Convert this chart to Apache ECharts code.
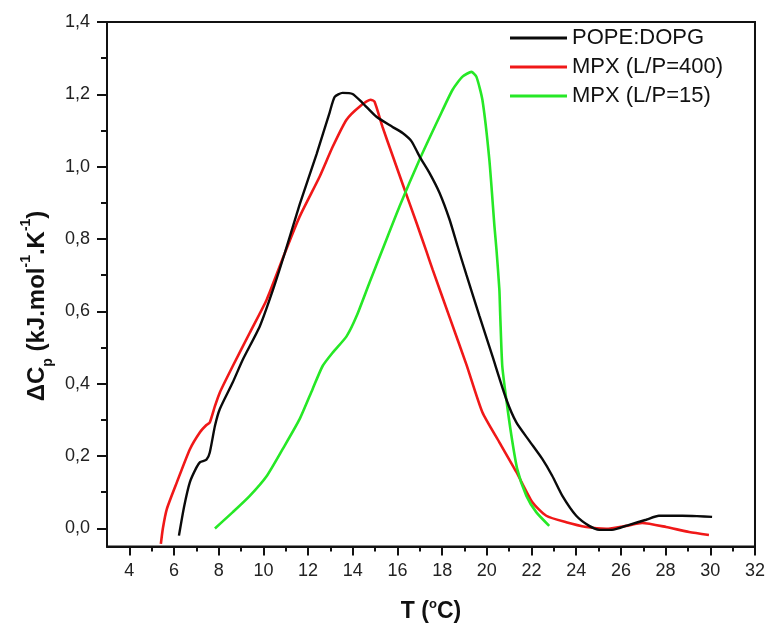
<!DOCTYPE html>
<html>
<head>
<meta charset="utf-8">
<script src="https://cdn.jsdelivr.net/npm/echarts@6.0.0/dist/echarts.min.js"></script>
<style>
  html, body { margin: 0; padding: 0; background: #fff; }
  #chart { width: 768px; height: 628px; }
</style>
</head>
<body>
<div id="chart"></div>
<script>
// DSC thermograms: excess heat capacity vs temperature
var seriesNames = ['POPE:DOPG', 'MPX (L/P=400)', 'MPX (L/P=15)'];

var popeT = [6.22, 6.45, 6.71, 7.0, 7.16, 7.45, 7.6, 7.83, 8.05, 8.63, 9.08, 9.84, 10.43, 10.95, 11.62, 12.38, 12.96, 13.19, 13.54, 13.99, 14.44, 15.06, 15.78, 16.23, 16.63, 16.99, 17.43, 17.88, 18.33, 18.69, 19.09, 19.67, 20.25, 20.87, 21.32, 21.9, 22.48, 22.93, 23.38, 24.0, 24.58, 25.03, 25.6, 26.37, 27.13, 27.7, 28.74, 29.4, 30.08];
var popeCp = [-0.02, 0.06, 0.128, 0.168, 0.183, 0.19, 0.21, 0.283, 0.33, 0.404, 0.467, 0.559, 0.66, 0.76, 0.895, 1.035, 1.149, 1.193, 1.204, 1.201, 1.176, 1.138, 1.11, 1.093, 1.07, 1.028, 0.983, 0.928, 0.854, 0.78, 0.7, 0.587, 0.476, 0.357, 0.293, 0.242, 0.192, 0.145, 0.09, 0.035, 0.007, -0.004, -0.004, 0.01, 0.024, 0.035, 0.035, 0.034, 0.032];

var mpx400T = [5.41, 5.5, 5.68, 6.13, 6.71, 7.16, 7.45, 7.6, 7.83, 8.05, 8.63, 9.39, 10.15, 10.95, 11.62, 12.52, 13.1, 13.72, 14.3, 14.8, 14.97, 15.33, 15.78, 16.23, 16.85, 17.3, 17.57, 18.33, 19.09, 19.8, 20.56, 21.32, 22.03, 22.66, 23.55, 24.45, 25.34, 26.23, 26.95, 28.02, 29.05, 29.94];
var mpx400Cp = [-0.043, 0.0, 0.054, 0.128, 0.219, 0.266, 0.286, 0.293, 0.338, 0.376, 0.449, 0.541, 0.633, 0.76, 0.862, 0.973, 1.055, 1.13, 1.166, 1.185, 1.18, 1.11, 1.031, 0.952, 0.845, 0.765, 0.716, 0.584, 0.452, 0.321, 0.238, 0.156, 0.073, 0.035, 0.017, 0.004, -0.001, 0.007, 0.015, 0.004, -0.01, -0.018];

var mpx15T = [7.83, 8.63, 9.39, 10.15, 10.86, 11.62, 12.2, 12.65, 13.1, 13.72, 14.17, 14.75, 15.33, 16.09, 16.99, 17.88, 18.46, 18.91, 19.31, 19.53, 19.8, 20.11, 20.34, 20.43, 20.56, 20.6, 20.69, 20.87, 21.1, 21.36, 21.77, 22.21, 22.79];
var mpx15Cp = [0.0, 0.045, 0.09, 0.145, 0.219, 0.302, 0.385, 0.449, 0.486, 0.531, 0.587, 0.68, 0.771, 0.89, 1.02, 1.138, 1.212, 1.249, 1.262, 1.249, 1.185, 1.02, 0.835, 0.771, 0.66, 0.587, 0.449, 0.357, 0.256, 0.164, 0.09, 0.045, 0.007];

// axis ticks
var xMajorTicks = [4, 6, 8, 10, 12, 14, 16, 18, 20, 22, 24, 26, 28, 30, 32];
var xMinorTicks = [5, 7, 9, 11, 13, 15, 17, 19, 21, 23, 25, 27, 29, 31];
var yMajorTicks = [0, 0.2, 0.4, 0.6, 0.8, 1.0, 1.2, 1.4];
var yMinorTicks = [0.1, 0.3, 0.5, 0.7, 0.9, 1.1, 1.3];

function pairs(xs, ys) {
  return xs.map(function (x, i) { return [x, ys[i]]; });
}

var FONT = '"Liberation Sans", Arial, sans-serif';
var axisColor = '#111';
var lineColors = ['#0a0a0a', '#f01818', '#26e826'];

var chart = echarts.init(document.getElementById('chart'), null, { renderer: 'canvas' });

var xBase = { type: 'value', min: 3, max: 32, gridIndex: 0, splitLine: { show: false } };
var yBase = { type: 'value', min: -0.05, max: 1.4, gridIndex: 0, splitLine: { show: false } };

chart.setOption({
  animation: false,
  backgroundColor: '#fff',
  grid: { left: 107, right: 12, top: 22, bottom: 81, show: true, borderColor: axisColor, borderWidth: 2, backgroundColor: 'transparent' },
  legend: {
    orient: 'vertical',
    left: 510,
    top: 27,
    padding: 0,
    itemGap: 7,
    itemWidth: 57,
    itemHeight: 3,
    icon: 'rect',
    data: seriesNames,
    textStyle: { fontFamily: FONT, fontSize: 22, color: '#111', lineHeight: 22 }
  },
  xAxis: [
    Object.assign({}, xBase, {
      position: 'bottom',
      axisLine: { show: true, onZero: false, lineStyle: { color: axisColor, width: 2 } },
      axisTick: { show: true, inside: false, length: 9, customValues: xMajorTicks, lineStyle: { color: axisColor, width: 2 } },
      axisLabel: { show: true, customValues: xMajorTicks, margin: 16, fontFamily: FONT, fontSize: 18, color: '#222' },
      name: '{m|T (}{sup|o}{m|C)}',
      nameLocation: 'middle',
      nameGap: 51,
      nameTextStyle: {
        rich: {
          m: { fontFamily: FONT, fontSize: 23, fontWeight: 'bold', color: '#111', lineHeight: 28 },
          sup: { fontFamily: FONT, fontSize: 13, fontWeight: 'bold', color: '#111', verticalAlign: 'top', lineHeight: 28 }
        }
      }
    }),
    Object.assign({}, xBase, {
      position: 'bottom',
      axisLine: { show: false, onZero: false },
      axisTick: { show: true, inside: false, length: 5, customValues: xMinorTicks, lineStyle: { color: axisColor, width: 2 } },
      axisLabel: { show: false }
    })
  ],
  yAxis: [
    Object.assign({}, yBase, {
      position: 'left',
      axisLine: { show: true, onZero: false, lineStyle: { color: axisColor, width: 2 } },
      axisTick: { show: true, inside: false, length: 10, customValues: yMajorTicks, lineStyle: { color: axisColor, width: 2 } },
      axisLabel: {
        show: true, customValues: yMajorTicks, margin: 17, fontFamily: FONT, fontSize: 18, color: '#222',
        formatter: function (v) { return v.toFixed(1).replace('.', ','); }
      }
    }),
    Object.assign({}, yBase, {
      position: 'left',
      axisLine: { show: false, onZero: false },
      axisTick: { show: true, inside: false, length: 6, customValues: yMinorTicks, lineStyle: { color: axisColor, width: 2 } },
      axisLabel: { show: false }
    })
  ],
  graphic: [{
    type: 'text',
    x: 37,
    y: 306,
    rotation: Math.PI / 2,
    style: {
      text: '{m|ΔC}{sub|p}{m| (kJ.mol}{sup|-1}{m|.K}{sup|-1}{m|)}',
      align: 'center',
      verticalAlign: 'middle',
      rich: {
        m: { fontFamily: FONT, fontSize: 24, fontWeight: 'bold', fill: '#111', lineHeight: 36 },
        sub: { fontFamily: FONT, fontSize: 14, fontWeight: 'bold', fill: '#111', lineHeight: 36, verticalAlign: 'bottom' },
        sup: { fontFamily: FONT, fontSize: 14, fontWeight: 'bold', fill: '#111', lineHeight: 36, verticalAlign: 'top' }
      }
    }
  }],
  series: [
    {
      name: seriesNames[0], type: 'line', xAxisIndex: 0, yAxisIndex: 0,
      data: pairs(popeT, popeCp), showSymbol: false, symbol: 'none', smooth: 0.2,
      lineStyle: { color: lineColors[0], width: 2.4 }, itemStyle: { color: lineColors[0] }, z: 3
    },
    {
      name: seriesNames[1], type: 'line', xAxisIndex: 0, yAxisIndex: 0,
      data: pairs(mpx400T, mpx400Cp), showSymbol: false, symbol: 'none', smooth: 0.2,
      lineStyle: { color: lineColors[1], width: 2.6 }, itemStyle: { color: lineColors[1] }, z: 2
    },
    {
      name: seriesNames[2], type: 'line', xAxisIndex: 0, yAxisIndex: 0,
      data: pairs(mpx15T, mpx15Cp), showSymbol: false, symbol: 'none', smooth: 0.2,
      lineStyle: { color: lineColors[2], width: 2.6 }, itemStyle: { color: lineColors[2] }, z: 2
    }
  ]
});
</script>
</body>
</html>
